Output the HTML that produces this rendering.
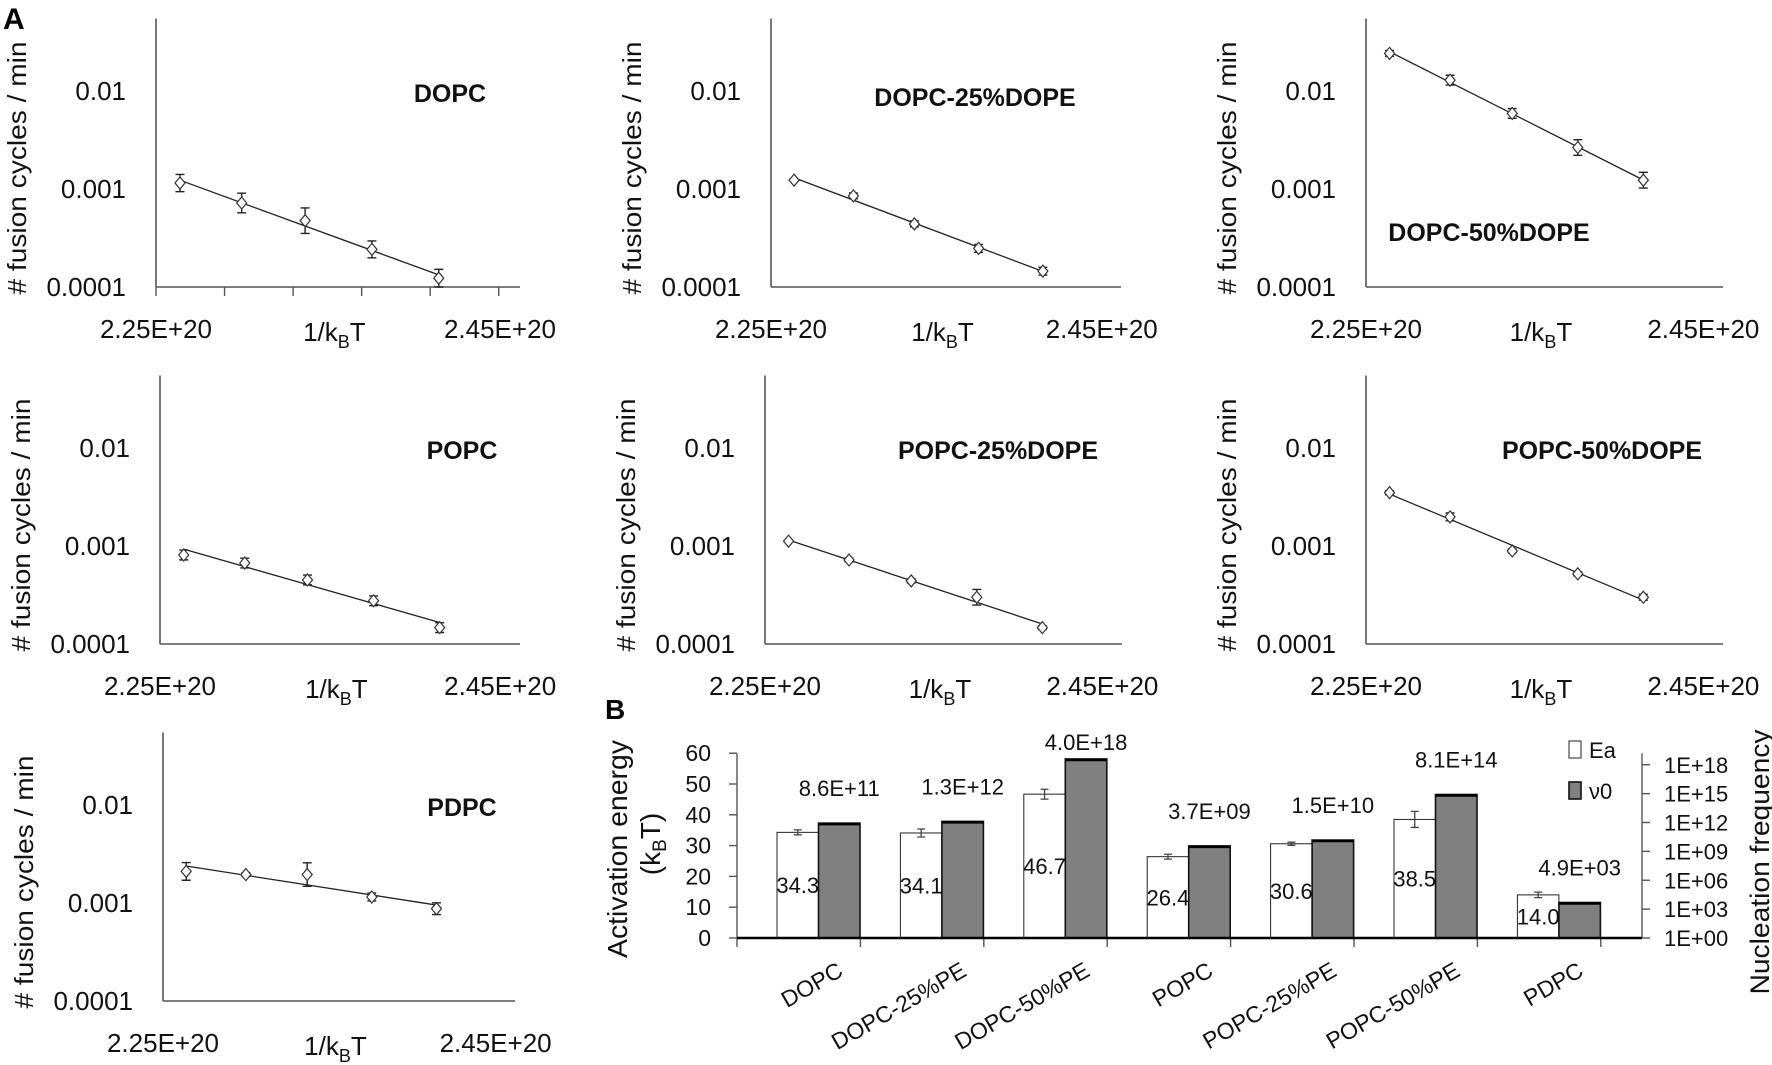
<!DOCTYPE html>
<html><head><meta charset="utf-8"><style>
html,body{margin:0;padding:0;background:#fff;}
svg{display:block;font-family:"Liberation Sans",Arial,sans-serif;}
</style></head><body>
<svg id="fig" width="1772" height="1065" viewBox="0 0 1772 1065" xmlns="http://www.w3.org/2000/svg"></svg>
<script>
// ---------- Panel A data ----------
const invKT = [2.264, 2.300, 2.337, 2.376, 2.415]; // x values (E+20)
const panelNames = ["DOPC","DOPC-25%DOPE","DOPC-50%DOPE","POPC","POPC-25%DOPE","POPC-50%DOPE","PDPC"];
const rateDOPC   = [1.15e-3, 7.2e-4, 4.75e-4, 2.42e-4, 1.23e-4];
const rateDOPC25 = [1.23e-3, 8.5e-4, 4.4e-4, 2.48e-4, 1.45e-4];
const rateDOPC50 = [2.42e-2, 1.29e-2, 5.9e-3, 2.65e-3, 1.23e-3];
const ratePOPC   = [8.1e-4, 6.7e-4, 4.5e-4, 2.76e-4, 1.47e-4];
const ratePOPC25 = [1.12e-3, 7.2e-4, 4.4e-4, 3.0e-4, 1.47e-4];
const ratePOPC50 = [3.5e-3, 1.98e-3, 8.9e-4, 5.2e-4, 3.0e-4];
const ratePDPC   = [2.1e-3, 1.95e-3, 1.95e-3, 1.15e-3, 8.75e-4];
const errDOPC   = [0.088,0.10,0.13,0.086,0.09];
const errDOPC25 = [0.01,0.03,0.03,0.04,0.04];
const errDOPC50 = [0.03,0.05,0.05,0.08,0.08];
const errPOPC   = [0.05,0.05,0.05,0.05,0.05];
const errPOPC25 = [0.01,0.02,0.02,0.08,0.02];
const errPOPC50 = [0.02,0.04,0.02,0.02,0.03];
const errPDPC   = [0.09,0.02,0.12,0.04,0.06];
const yTickVals = [0.01, 0.001, 0.0001];
const yTickLabels = ["0.01","0.001","0.0001"];
const xTickLabels = ["2.25E+20","2.45E+20"];

// ---------- Panel B data ----------
const lipids = ["DOPC","DOPC-25%PE","DOPC-50%PE","POPC","POPC-25%PE","POPC-50%PE","PDPC"];
const eaVals = [34.3,34.1,46.7,26.4,30.6,38.5,14.0];
const eaErr = [0.8,1.3,1.6,0.8,0.5,2.6,0.9];
const v0Vals = [8.6e11,1.3e12,4.0e18,3.7e9,1.5e10,8.1e14,4.9e3];
const v0Labels = ["8.6E+11","1.3E+12","4.0E+18","3.7E+09","1.5E+10","8.1E+14","4.9E+03"];
const eaTicks = [0,10,20,30,40,50,60];
const v0TickExp = [0,3,6,9,12,15,18];
const v0TickLabels = ["1E+00","1E+03","1E+06","1E+09","1E+12","1E+15","1E+18"];

const NS="http://www.w3.org/2000/svg";
const svg=document.getElementById('fig');
function mk(tag,attrs,parent){const e=document.createElementNS(NS,tag);for(const k in attrs)e.setAttribute(k,attrs[k]);(parent||svg).appendChild(e);return e;}

let t=mk('text',{x:3,y:29,'font-size':30,'font-weight':'bold',fill:'#000'});t.textContent='A';


t=mk('text',{x:605,y:719,'font-size':28,'font-weight':'bold',fill:'#000'});t.textContent='B';



const rates=[rateDOPC,rateDOPC25,rateDOPC50,ratePOPC,ratePOPC25,ratePOPC50,ratePDPC];
const errs=[errDOPC,errDOPC25,errDOPC50,errPOPC,errPOPC25,errPOPC50,errPDPC];
const geo=[
 {ax:156,ay:287,len:364,tx:450,ty:93,ticks:true},
 {ax:771,ay:287,len:350,tx:975,ty:97},
 {ax:1366,ay:287,len:357,tx:1489,ty:232},
 {ax:160,ay:644,len:360,tx:462,ty:450},
 {ax:765,ay:644,len:357,tx:998,ty:450},
 {ax:1366,ay:644,len:357,tx:1602,ty:450},
 {ax:163,ay:1001,len:352,tx:462,ty:807}
];
const DEC=98, TOPD=2.74, XSPAN=5.31;

geo.forEach((g,i)=>{
  const grp=mk('g',{});
  
  
  const yS=v=>g.ay-(Math.log10(v)+4)*DEC;
  const ySl=l=>g.ay-(l+4)*DEC;
  const pxTick=g.len/XSPAN;
  const xS=x=>g.ax+(x-2.25)/0.04*pxTick;
  let a=mk('line',{x1:g.ax,y1:g.ay-TOPD*DEC,x2:g.ax,y2:g.ay,stroke:'#555','stroke-width':1.6},grp);
  
  
  a=mk('line',{x1:g.ax,y1:g.ay,x2:g.ax+g.len,y2:g.ay,stroke:'#555','stroke-width':1.6},grp);
  
  
  if(g.ticks){for(let k=0;k<=5;k++){const tk=mk('line',{x1:g.ax+k*pxTick,y1:g.ay,x2:g.ax+k*pxTick,y2:g.ay+9,stroke:'#555','stroke-width':1.4},grp);
    
    }}
  yTickVals.forEach((v,k)=>{const e=mk('text',{x:g.ax-30,y:yS(v)+9,'font-size':26,'text-anchor':'end',fill:'#111'},grp);e.textContent=yTickLabels[k];
    
    });
  let yt=mk('text',{x:0,y:0,'font-size':26,'text-anchor':'middle',fill:'#111',transform:`translate(${g.ax-130},${g.ay-119}) rotate(-90)`,textLength:253,lengthAdjust:'spacingAndGlyphs'},grp);
  yt.textContent='# fusion cycles / min';
  
  
  let xl=mk('text',{x:g.ax,y:g.ay+51,'font-size':26,'text-anchor':'middle',fill:'#111'},grp);xl.textContent=xTickLabels[0];
  
  
  xl=mk('text',{x:g.ax+g.len*0.945,y:g.ay+51,'font-size':26,'text-anchor':'middle',fill:'#111'},grp);xl.textContent=xTickLabels[1];
  
  
  let xt=mk('text',{x:g.ax+g.len*0.49,y:g.ay+54,'font-size':26,'text-anchor':'middle',fill:'#111'},grp);
  xt.innerHTML='1/k<tspan font-size="18" dy="7">B</tspan><tspan dy="-7">T</tspan>';
  
  
  let ti=mk('text',{x:g.tx,y:g.ty+9,'font-size':25,'font-weight':'bold','text-anchor':'middle',fill:'#111'},grp);
  ti.textContent=panelNames[i];
  
  
  const r=rates[i], n=r.length;
  const ly=r.map(v=>Math.log10(v));
  const mx=invKT.reduce((s,v)=>s+v,0)/n, my=ly.reduce((s,v)=>s+v,0)/n;
  let sxy=0,sxx=0;for(let k=0;k<n;k++){sxy+=(invKT[k]-mx)*(ly[k]-my);sxx+=(invKT[k]-mx)**2;}
  const b=sxy/sxx, a0=my-b*mx;
  const fl=mk('line',{x1:xS(invKT[0]),y1:ySl(a0+b*invKT[0]),x2:xS(invKT[n-1]),y2:ySl(a0+b*invKT[n-1]),stroke:'#222','stroke-width':1.3},grp);
  
  
  r.forEach((v,k)=>{
    const px=xS(invKT[k]), py=yS(v), l=Math.log10(v), e=errs[i][k];
    const y1=ySl(l+e), y2=ySl(l-e);
    const eb=mk('path',{d:`M${px},${y1}V${y2}M${px-4.5},${y1}H${px+4.5}M${px-4.5},${y2}H${px+4.5}`,stroke:'#222','stroke-width':1.4,fill:'none'},grp);
    
    
    const d=mk('path',{d:`M${px},${py-6}L${px+5},${py}L${px},${py+6}L${px-5},${py}Z`,fill:'#fff',stroke:'#333','stroke-width':1.2},grp);
    
    
  });
});

// ---------- Panel B ----------
const B={x0:737,x1:1642,y0:938,unit:3.08,cat:123.4,barOff:40,barW:41.5};
const yEa=v=>B.y0-v*B.unit;
const decUnits=60/19.2;
const yV=v=>B.y0-Math.log10(v)*decUnits*B.unit;
const yExp=e=>B.y0-e*decUnits*B.unit;
const gb=mk('g',{});


let ax=mk('line',{x1:B.x0,y1:yEa(60),x2:B.x0,y2:B.y0,stroke:'#555','stroke-width':1.4},gb);


ax=mk('line',{x1:B.x1,y1:yExp(19.2),x2:B.x1,y2:B.y0,stroke:'#555','stroke-width':1.4},gb);


eaTicks.forEach(v=>{
  const tk=mk('line',{x1:B.x0-8,y1:yEa(v),x2:B.x0,y2:yEa(v),stroke:'#555','stroke-width':1.4},gb);
  
  
  const tl=mk('text',{x:B.x0-26,y:yEa(v)+8,'font-size':23,'text-anchor':'end',fill:'#111'},gb);tl.textContent=v;
  
  
});
v0TickExp.forEach((e,k)=>{
  const tk=mk('line',{x1:B.x1,y1:yExp(e),x2:B.x1+8,y2:yExp(e),stroke:'#555','stroke-width':1.4},gb);
  
  
  const tl=mk('text',{x:B.x1+22,y:yExp(e)+8,'font-size':22,fill:'#111'},gb);tl.textContent=v0TickLabels[k];
  
  
});
for(let k=0;k<=lipids.length;k++){
  const tk=mk('line',{x1:B.x0+k*B.cat,y1:B.y0,x2:B.x0+k*B.cat,y2:B.y0+9,stroke:'#555','stroke-width':1.4},gb);
  
  
}
lipids.forEach((nm,i)=>{
  const wx=B.x0+i*B.cat+B.barOff, gx=wx+B.barW;
  const wb=mk('rect',{x:wx,y:yEa(eaVals[i]),width:B.barW,height:B.y0-yEa(eaVals[i]),fill:'#fff',stroke:'#222','stroke-width':1},gb);
  
  
  const gtop=yV(v0Vals[i]);
  const gbar=mk('rect',{x:gx,y:gtop,width:B.barW,height:B.y0-gtop,fill:'#808080',stroke:'#111','stroke-width':1.6},gb);
  
  
  const topl=mk('line',{x1:gx,y1:gtop+1,x2:gx+B.barW,y2:gtop+1,stroke:'#000','stroke-width':2.5},gb);
  
  
  const cx=wx+B.barW/2, e1=yEa(eaVals[i]+eaErr[i]), e2=yEa(eaVals[i]-eaErr[i]);
  const eb=mk('path',{d:`M${cx},${e1}V${e2}M${cx-4},${e1}H${cx+4}M${cx-4},${e2}H${cx+4}`,stroke:'#444','stroke-width':1.3,fill:'none'},gb);
  
  
  const el=mk('text',{x:cx,y:yEa(eaVals[i]/2)+8,'font-size':22,'text-anchor':'middle',fill:'#111'},gb);
  el.textContent=eaVals[i].toFixed(1);
  
  
  const vl=mk('text',{x:gx+B.barW/2,y:Math.max(gtop-35,742)+8,'font-size':22,'text-anchor':'middle',fill:'#111'},gb);
  vl.textContent=v0Labels[i];
  
  
  const ex=gx+26, ey=975;
  const cl=mk('text',{x:0,y:0,'font-size':23,'text-anchor':'end',fill:'#111',transform:`translate(${ex},${ey}) rotate(-30)`},gb);
  cl.textContent=nm;
  
  
});
let zl=mk('line',{x1:B.x0,y1:B.y0,x2:B.x1,y2:B.y0,stroke:'#000','stroke-width':2.6},gb);


let lt=mk('text',{x:0,y:0,'font-size':28,'text-anchor':'middle',fill:'#111',transform:'translate(627,849) rotate(-90)',textLength:218,lengthAdjust:'spacingAndGlyphs'},gb);
lt.textContent='Activation energy';


lt=mk('text',{x:0,y:0,'font-size':28,'text-anchor':'middle',fill:'#111',transform:'translate(660,844) rotate(-90)'},gb);
lt.innerHTML='(k<tspan font-size="19" dy="6">B</tspan><tspan dy="-6">T)</tspan>';


lt=mk('text',{x:0,y:0,'font-size':27,'text-anchor':'middle',fill:'#111',transform:'translate(1769,862) rotate(-90)',textLength:265,lengthAdjust:'spacingAndGlyphs'},gb);
lt.textContent='Nucleation frequency';


let lg=mk('rect',{x:1569,y:741,width:12,height:17,fill:'#fff',stroke:'#222','stroke-width':1},gb);


lg=mk('text',{x:1589,y:758,'font-size':22,fill:'#111'},gb);lg.textContent='Ea';


lg=mk('rect',{x:1569,y:782,width:12,height:17,fill:'#808080',stroke:'#111','stroke-width':1.6},gb);


lg=mk('text',{x:1589,y:799,'font-size':22,fill:'#111'},gb);lg.textContent='ν0';


</script>
</body></html>
